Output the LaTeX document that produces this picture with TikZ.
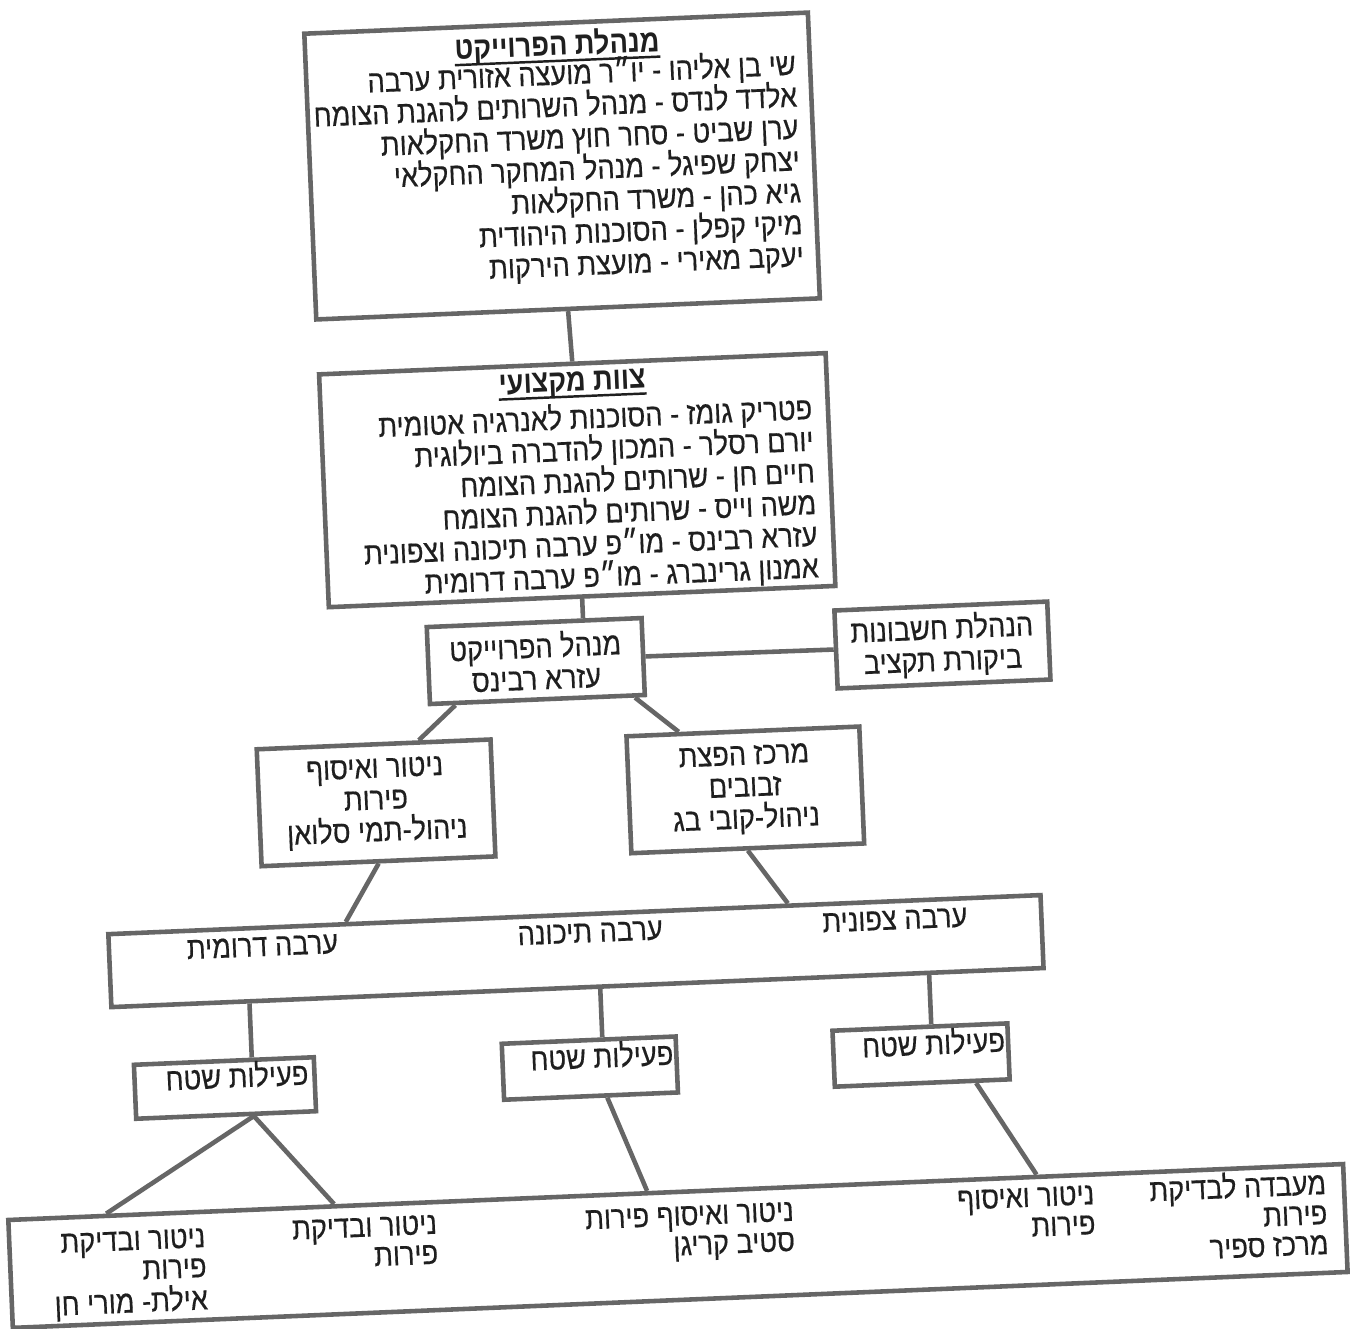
\documentclass[tikz,border=0pt]{standalone}
\usepackage{fontspec}
\usetikzlibrary{calc}
\newfontfamily\heb[Script=Hebrew,FakeStretch=0.86,FakeBold=0.4]{Liberation Sans}
\newfontfamily\hebb[Script=Hebrew,FakeStretch=0.86]{Liberation Sans Bold}
\TeXXeTstate=1
\newcommand{\rl}[1]{\beginR #1\endR}
\newlength{\pxl}\setlength{\pxl}{0.02cm}
\definecolor{linecol}{gray}{0.40}
\definecolor{txtcol}{gray}{0.12}
\begin{document}
\begin{tikzpicture}[x=0.02cm,y=-0.02cm,
  box/.style={draw=linecol,line width=2.6pt,inner sep=0pt,text=txtcol,
    font=\heb\fontsize{18}{18.1}\selectfont,align=center},
  con/.style={draw=linecol,line width=2.6pt},
  uln/.style={draw=txtcol,line width=1.4pt},
  txt/.style={inner sep=0pt,text=txtcol,font=\heb\fontsize{18}{18.1}\selectfont},
  ttl/.style={inner sep=0pt,text=txtcol,font=\hebb\fontsize{18}{18.1}\selectfont}]
\useasboundingbox (0,0) rectangle (1361,1328);
\fill[white] (0,0) rectangle (1361,1328);
\begin{scope}[rotate around={2.4:(680,664)},transform shape]
% boxes
\node[box,minimum width=504\pxl,minimum height=286\pxl] (b1) at (583,161.5) {};
\node[box,minimum width=507\pxl,minimum height=233\pxl] (b2) at (585,476) {};
\node[box,minimum width=215\pxl,minimum height=77\pxl] (b3) at (536,655)
  {\rl{מנהל הפרוייקט}\\\rl{עזרא רבינס}};
\node[box,minimum width=213\pxl,minimum height=78\pxl] (b4) at (943,656)
  {\rl{הנהלת חשבונות}\\\rl{ביקורת תקציב}};
\node[box,minimum width=234\pxl,minimum height=117\pxl] (b5) at (370.5,790)
  {\rl{ניטור ואיסוף}\\\rl{פירות}\\\rl{ניהול-תמי סלואן}};
\node[box,minimum width=233\pxl,minimum height=117\pxl] (b6) at (740,792.5)
  {\rl{מרכז הפצת}\\\rl{זבובים}\\\rl{ניהול-קובי בג}};
\node[box,minimum width=933\pxl,minimum height=73\pxl] (b7) at (564,946.5) {};
\node[box,minimum width=180\pxl,minimum height=54\pxl] (b8) at (207.6,1068.6) {};
\node[box,minimum width=174\pxl,minimum height=56\pxl] (b9) at (573,1064) {};
\node[box,minimum width=175\pxl,minimum height=56\pxl] (b10) at (904.5,1064.8) {};
\node[box,minimum width=1336\pxl,minimum height=108\pxl] (b11) at (653.6,1245.4) {};
% box 1 text
\node[ttl,anchor=base] (t1) at (583,51) {\rl{מנהלת הפרוייקט}};
\draw[uln] ($(t1.base west)!3pt!-90:(t1.base east)$) -- ($(t1.base east)!3pt!90:(t1.base west)$);
\foreach \t [count=\i] in {שי בן אליהו - יו״ר מועצה אזורית ערבה,
  אלדד לנדס - מנהל השרותים להגנת הצומח,
  ערן שביט - סחר חוץ משרד החקלאות,
  יצחק שפיגל - מנהל המחקר החקלאי,
  גיא כהן - משרד החקלאות,
  מיקי קפלן - הסוכנות היהודית,
  יעקב מאירי - מועצת הירקות}
  \node[txt,anchor=base east] (b1l\i) at (821,{80+31.9*(\i-1)}) {\rl{\t}};
% box 2 text
\node[ttl,anchor=base] (t2) at (584,387) {\rl{צוות מקצועי}};
\draw[uln] ($(t2.base west)!3pt!-90:(t2.base east)$) -- ($(t2.base east)!3pt!90:(t2.base west)$);
\foreach \t [count=\i] in {פטריק גומז - הסוכנות לאנרגיה אטומית,
  יורם רסלר - המכון להדברה ביולוגית,
  חיים חן - שרותים להגנת הצומח,
  משה וייס - שרותים להגנת הצומח,
  עזרא רבינס - מו״פ ערבה תיכונה וצפונית,
  אמנון גרינברג - מו״פ ערבה דרומית}
  \node[txt,anchor=base east] (b2l\i) at (823,{424.7+31.7*(\i-1)}) {\rl{\t}};
% box 7 text
\node[txt] (r1) at (884,929) {\rl{ערבה צפונית}};
\node[txt] (r2) at (579,929) {\rl{ערבה תיכונה}};
\node[txt] (r3) at (251,929) {\rl{ערבה דרומית}};
% field boxes text
\node[txt,anchor=base east] (f1) at ($(b8.east)+(-8,0)$) {\rl{פעילות שטח}};
\node[txt,anchor=base east] (f2) at ($(b9.east)+(-5,0)$) {\rl{פעילות שטח}};
\node[txt,anchor=base east] (f3) at ($(b10.east)+(-5,0)$) {\rl{פעילות שטח}};
% bottom box text
\node[txt,anchor=base east] (a1) at (1304,1220.6) {\rl{מעבדה לבדיקת}};
\node[txt,anchor=base east] (a2) at (1304,1250.6) {\rl{פירות}};
\node[txt,anchor=base east] (a3) at (1304,1280.6) {\rl{מרכז ספיר}};
\node[txt,anchor=base east] (c1) at (1072,1221) {\rl{ניטור ואיסוף}};
\node[txt,anchor=base east] (c2) at (1072,1251) {\rl{פירות}};
\node[txt,anchor=base east] (d1) at (771,1225) {\rl{ניטור ואיסוף פירות}};
\node[txt,anchor=base east] (d2) at (771,1255) {\rl{סטיב קריגן}};
\node[txt,anchor=base east] (e1) at (414,1223) {\rl{ניטור ובדיקת}};
\node[txt,anchor=base east] (e2) at (414,1253) {\rl{פירות}};
\node[txt,anchor=base east] (g1) at (182,1226.6) {\rl{ניטור ובדיקת}};
\node[txt,anchor=base east] (g2) at (182,1256.6) {\rl{פירות}};
\node[txt,anchor=base east] (g3) at (182,1289) {\rl{אילת- מורי חן}};
% connectors
\draw[con] (b1.south) -- (b2.north);
\draw[con] (b2.south) -- ($(b3.north west)!(b2.south)!(b3.north east)$);
\draw[con] (b3.east) -- (b4.west);
\draw[con] ($(b3.south west)!0.126!(b3.south east)$) -- ($(b5.north west)!0.69!(b5.north east)$);
\draw[con] ($(b3.south west)!0.945!(b3.south east)$) -- ($(b6.north west)!0.23!(b6.north east)$);
\draw[con] (b5.south) -- ($(b7.north west)!0.256!(b7.north east)$);
\draw[con] (b6.south) -- ($(b7.north west)!0.728!(b7.north east)$);
\coordinate (k8) at ($(b8.north west)!0.652!(b8.north east)$);
\coordinate (k9) at ($(b9.north west)!0.577!(b9.north east)$);
\coordinate (k10) at ($(b10.north west)!0.564!(b10.north east)$);
\draw[con] ($(b7.south west)!(k8)!(b7.south east)$) -- (k8);
\draw[con] ($(b7.south west)!(k9)!(b7.south east)$) -- (k9);
\draw[con] ($(b7.south west)!(k10)!(b7.south east)$) -- (k10);
\coordinate (m8) at ($(b8.south west)!0.65!(b8.south east)$);
\draw[con] (m8) -- ($(b11.north west)!0.0749!(b11.north east)$);
\draw[con] (m8) -- ($(b11.north west)!0.245!(b11.north east)$);
\draw[con] ($(b9.south west)!0.591!(b9.south east)$) -- ($(b11.north west)!0.4787!(b11.north east)$);
\draw[con] ($(b10.south west)!0.80!(b10.south east)$) -- ($(b11.north west)!0.7695!(b11.north east)$);
\end{scope}
\end{tikzpicture}
\end{document}
